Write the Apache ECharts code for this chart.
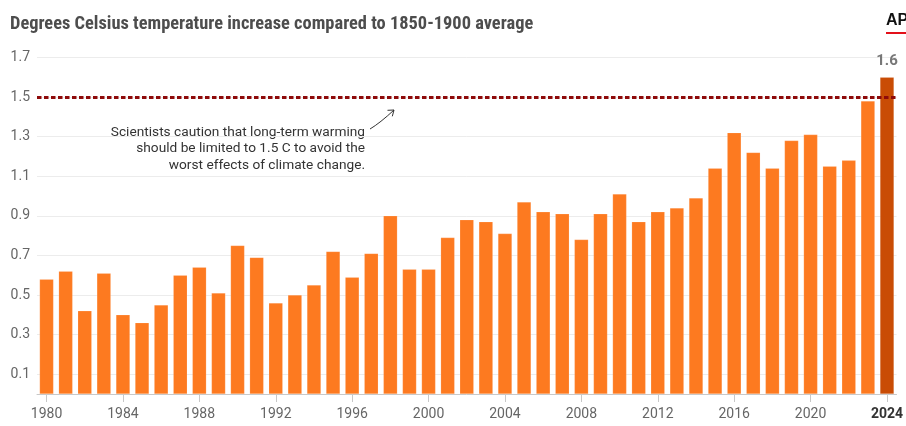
<!DOCTYPE html>
<html>
<head>
<meta charset="utf-8">
<script src="https://cdn.jsdelivr.net/npm/echarts@6/dist/echarts.min.js"></script>
<style>
html,body{margin:0;padding:0;background:#fff;}
#chart{width:906px;height:426px;}
</style>
</head>
<body>
<div id="chart"></div>
<script>
const years = ['1980','1981','1982','1983','1984','1985','1986','1987','1988','1989',
  '1990','1991','1992','1993','1994','1995','1996','1997','1998','1999',
  '2000','2001','2002','2003','2004','2005','2006','2007','2008','2009',
  '2010','2011','2012','2013','2014','2015','2016','2017','2018','2019',
  '2020','2021','2022','2023','2024'];
const anomalies = [0.58,0.62,0.42,0.61,0.40,0.36,0.45,0.60,0.64,0.51,
  0.75,0.69,0.46,0.50,0.55,0.72,0.59,0.71,0.90,0.63,
  0.63,0.79,0.88,0.87,0.81,0.97,0.92,0.91,0.78,0.91,
  1.01,0.87,0.92,0.94,0.99,1.14,1.32,1.22,1.14,1.28,
  1.31,1.15,1.18,1.48,1.60];
const yTicks = [0.1,0.3,0.5,0.7,0.9,1.1,1.3,1.5,1.7];
const limit = 1.5;
const subtitle = 'Degrees Celsius temperature increase compared to 1850-1900 average';
const noteLines = ['Scientists caution that long-term warming','should be limited to 1.5 C to avoid the','worst effects of climate change.'];

const orange = '#fd7a20';
const dark = '#c94c05';
const lastIdx = anomalies.length - 1;
const barData = anomalies.map((v, i) => i === lastIdx ? {
  value: v,
  itemStyle: { color: dark },
  label: { show: true, position: 'top', distance: 8, formatter: p => p.value.toFixed(1),
    color: '#777', fontSize: 15, fontWeight: 'bold', fontFamily: 'Roboto' }
} : v);

const chart = echarts.init(document.getElementById('chart'), null, { renderer: 'canvas' });
const font = 'Roboto';
const noteFont = '13.7px Roboto';
chart.setOption({
  animation: false,
  backgroundColor: '#fff',
  grid: { left: 37, right: 5, top: 57.4, bottom: 32, containLabel: false },
  xAxis: {
    type: 'category',
    data: years,
    axisLine: { show: true, lineStyle: { color: '#c8c8c8', width: 1 } },
    axisTick: { show: true, alignWithLabel: true, interval: 3, length: 8, lineStyle: { color: '#c8c8c8' } },
    axisLabel: {
      interval: 3, margin: 13, fontSize: 14, color: '#666', fontFamily: font,
      formatter: v => v === years[lastIdx] ? '{b|' + v + '}' : v,
      rich: { b: { fontWeight: 'bold', color: '#333', fontSize: 14, fontFamily: font } }
    }
  },
  yAxis: {
    type: 'value', min: 0, max: 1.7,
    axisLine: { show: false },
    axisTick: { show: false, customValues: yTicks },
    axisLabel: { customValues: yTicks, margin: 7, fontSize: 14, color: '#666', fontFamily: font,
      formatter: v => v.toFixed(1) },
    splitLine: { show: true, lineStyle: { color: '#ececec', width: 1 } }
  },
  series: [{
    type: 'bar',
    data: barData,
    barWidth: 14,
    itemStyle: { color: orange, borderColor: 'rgba(255,255,255,0.3)', borderWidth: 0.5 },
    markLine: {
      silent: true, symbol: 'none', label: { show: false },
      lineStyle: { color: '#8e0a0a', width: 3, type: [4.5, 2.5] },
      data: [{ yAxis: limit }]
    },
    z: 2
  }],
  graphic: [
    { type: 'text', left: 10, top: 15, style: { text: subtitle, fill: '#4d4d4d',
      font: 'bold 18.4px "Liberation Sans Narrow", "Roboto Condensed", sans-serif' } },
    { type: 'text', left: 886, top: 13, style: { text: 'AP', fill: '#111',
      font: 'bold 16px "Liberation Sans", sans-serif' } },
    { type: 'rect', shape: { x: 886, y: 32, width: 20, height: 2 }, style: { fill: '#e3101a' } },
    { type: 'text', x: 365, y: 132.7, style: { text: noteLines[0], fill: '#333', align: 'right', verticalAlign: 'middle', font: noteFont } },
    { type: 'text', x: 365, y: 149, style: { text: noteLines[1], fill: '#333', align: 'right', verticalAlign: 'middle', font: noteFont } },
    { type: 'text', x: 365, y: 166, style: { text: noteLines[2], fill: '#333', align: 'right', verticalAlign: 'middle', font: noteFont } },
    { type: 'bezierCurve', shape: { x1: 370, y1: 129, x2: 394, y2: 110, cpx1: 380, cpy1: 123 },
      style: { stroke: '#333', lineWidth: 1, fill: 'none' } },
    { type: 'polyline', shape: { points: [[387.5, 110.3], [394, 110], [392.3, 116.3]] },
      style: { stroke: '#333', lineWidth: 1, fill: 'none' } }
  ]
});
</script>
</body>
</html>
